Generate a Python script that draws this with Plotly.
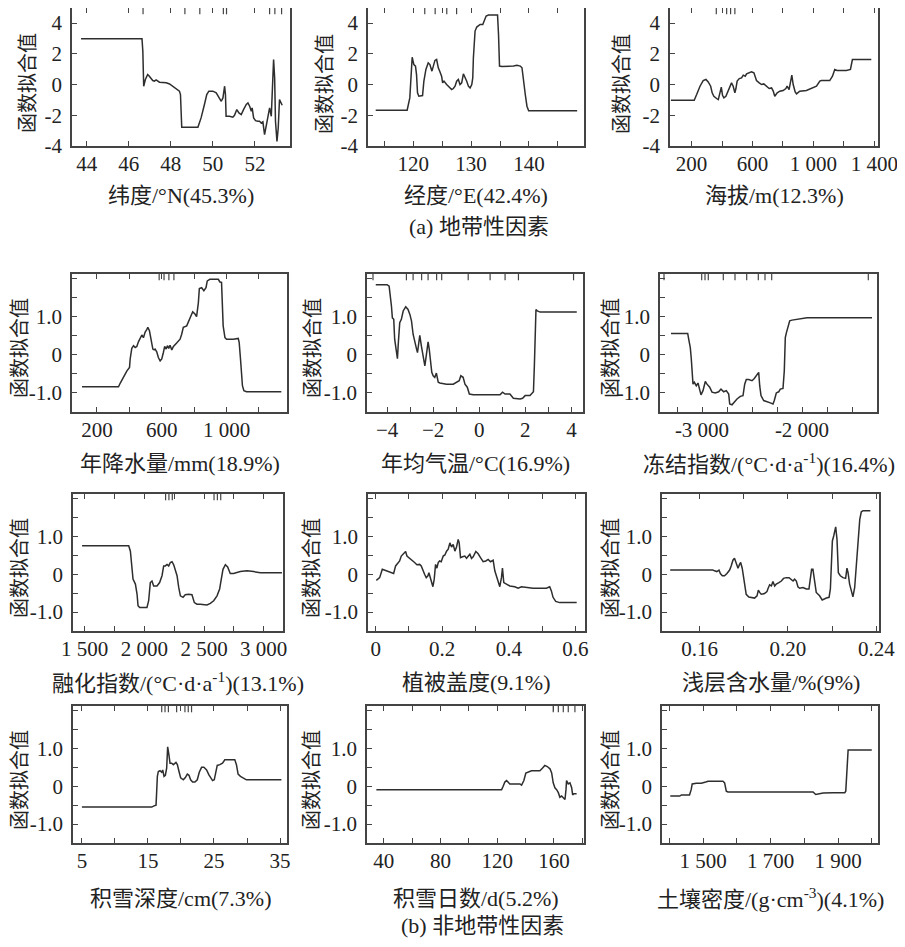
import plotly.graph_objects as go

# ---------------- data ----------------
lat_x = [43.73, 46.63, 46.67, 46.70, 46.71, 46.79, 46.90, 46.98, 47.06, 47.14, 47.22, 47.30, 47.46, 47.62,
         47.78, 47.94, 48.10, 48.25, 48.41, 48.46, 48.49, 48.52, 49.29, 49.44, 49.60, 49.71, 49.81, 50.00,
         50.16, 50.32, 50.40, 50.48, 50.56, 50.60, 50.63, 50.79, 50.95, 51.03, 51.14, 51.24, 51.35, 51.46,
         51.59, 51.67, 51.75, 51.83, 51.87, 51.94, 52.03, 52.14, 52.22, 52.30, 52.38, 52.46, 52.54, 52.62,
         52.70, 52.78, 52.83, 52.86, 52.89, 52.94, 52.98, 53.05, 53.11, 53.17, 53.25, 53.30]
lat_y = [2.98, 2.98, 2.17, 1.09, -0.11, 0.33, 0.65, 0.54, 0.39, 0.26, 0.22, 0.30, 0.15, 0.15,
         0.11, 0.04, -0.11, -0.26, -0.43, -0.65, -1.74, -2.78, -2.78, -2.17, -1.30, -0.65, -0.43, -0.43,
         -0.54, -0.98, -1.09, -0.87, -0.11, -0.65, -2.07, -2.07, -2.13, -2.00, -1.63, -1.85, -1.96, -1.63,
         -1.30, -1.20, -1.41, -1.74, -1.52, -2.17, -2.35, -2.39, -2.39, -2.50, -2.43, -3.26, -2.61, -2.17,
         -1.52, -2.07, -0.65, 0.65, 1.63, 0.43, -2.39, -3.70, -2.83, -0.98, -1.30, -1.35]
lat_rug = [46.68, 48.67, 49.38, 50.50, 50.65, 52.70, 52.95, 53.27]

lon_x = [113.53, 118.96, 119.42, 119.71, 119.83, 120.12, 120.40, 120.58, 120.75, 120.98, 121.45, 121.62,
         121.85, 122.20, 122.60, 122.89, 123.24, 123.47, 123.76, 124.05, 124.34, 124.62, 124.91, 125.09,
         125.32, 125.78, 126.36, 126.65, 126.94, 127.23, 127.51, 127.80, 128.09, 128.38, 128.67, 128.96,
         129.25, 129.54, 129.83, 130.12, 130.29, 130.40, 130.69, 130.98, 131.56, 132.02, 132.25, 132.60,
         133.01, 133.87, 134.57, 134.74, 134.91, 135.32, 136.18, 137.34, 137.92, 138.50, 138.79, 139.08,
         139.36, 139.65, 139.94, 140.81, 148.32]
lon_y = [-1.67, -1.67, -0.87, 1.09, 1.78, 1.30, 1.20, 0.65, -0.54, -0.76, -0.76, -0.72,
         0.22, 0.98, 1.41, 1.30, 0.87, 1.20, 1.57, 1.63, 1.09, 0.83, 0.54, 0.11,
         0.22, 0.00, -0.22, -0.33, -0.26, -0.11, 0.22, 0.33, 0.00, 0.11, 0.70, 0.48,
         0.22, -0.11, -0.22, 0.00, 0.43, 1.74, 3.48, 3.74, 3.91, 3.91, 4.13, 4.46,
         4.52, 4.52, 4.52, 3.26, 1.20, 1.17, 1.17, 1.20, 1.26, 1.20, 1.09, 0.00,
         -0.65, -1.41, -1.70, -1.70, -1.70]
lon_rug = [122.0, 123.8, 125.8, 127.5]

elev_x = [64, 217, 233, 255, 276, 294, 309, 325, 335, 346, 364, 375, 386, 395, 403, 412, 425, 440, 456,
          462, 473, 484, 491, 499, 513, 528, 539, 552, 561, 578, 593, 609, 626, 644, 659, 674, 692, 709,
          725, 736, 746, 762, 779, 801, 819, 827, 840, 849, 858, 867, 880, 889, 910, 954, 987, 1020,
          1042, 1052, 1107, 1125, 1140, 1155, 1216, 1243, 1256, 1282, 1380]
elev_y = [-1.02, -1.02, -0.65, -0.11, 0.26, 0.33, 0.17, -0.11, -0.54, -0.76, -0.91, -0.98, -0.54, -0.17,
          -0.70, -0.87, -0.76, -0.39, 0.00, 0.11, -0.11, -0.54, -0.26, 0.22, 0.39, 0.43, 0.61, 0.54, 0.70,
          0.76, 0.83, 0.76, 0.26, 0.11, 0.00, 0.04, -0.11, -0.26, -0.22, -0.43, -0.76, -0.54, -0.43, -0.39,
          -0.26, -0.11, -0.33, 0.11, 0.61, 0.00, -0.48, -0.61, -0.43, -0.39, -0.26, -0.11, 0.22, 0.26, 0.26,
          0.54, 0.98, 0.91, 0.91, 0.98, 1.63, 1.63, 1.63]
elev_rug = [362, 430, 456, 484]

prec_x = [108, 333, 344, 364, 385, 401, 405, 415, 426, 436, 446, 456, 467, 477, 487, 497, 508, 514, 524,
          532, 545, 553, 559, 569, 579, 590, 600, 610, 618, 627, 635, 643, 651, 662, 672, 692, 713, 723,
          733, 754, 764, 778, 791, 805, 815, 826, 832, 846, 860, 873, 881, 897, 949, 959, 969, 979, 990,
          1000, 1041, 1072, 1078, 1086, 1098, 1107, 1123, 1338]
prec_y = [-0.84, -0.84, -0.74, -0.57, -0.42, -0.33, -0.11, 0.17, 0.24, 0.19, 0.22, 0.34, 0.45, 0.52,
          0.45, 0.59, 0.67, 0.72, 0.63, 0.45, 0.15, 0.13, 0.15, 0.08, -0.07, -0.16, -0.11, 0.06, 0.22,
          0.15, 0.24, 0.17, 0.25, 0.13, 0.22, 0.31, 0.41, 0.54, 0.72, 0.76, 0.85, 1.00, 1.13, 1.07, 1.00,
          1.37, 1.74, 1.76, 1.68, 1.76, 1.94, 1.98, 1.98, 1.91, 1.90, 0.76, 0.45, 0.41, 0.41, 0.43, 0.32,
          -0.11, -0.81, -0.94, -0.97, -0.97]
prec_rug = [584, 614, 644, 675]

temp_x = [-4.49, -4.00, -3.91, -3.88, -3.81, -3.77, -3.71, -3.67, -3.59, -3.55, -3.51, -3.45, -3.38,
          -3.30, -3.19, -3.09, -3.01, -2.94, -2.87, -2.80, -2.72, -2.68, -2.62, -2.58, -2.51, -2.43,
          -2.36, -2.29, -2.22, -2.17, -2.12, -2.06, -2.00, -1.93, -1.86, -1.78, -1.71, -1.42, -1.13,
          -0.99, -0.87, -0.80, -0.70, -0.62, -0.52, -0.43, -0.26, 0.90, 1.01, 1.12, 1.33, 1.48, 1.77,
          1.88, 1.99, 2.20, 2.35, 2.39, 2.43, 2.46, 2.52, 2.64, 4.23]
temp_y = [1.84, 1.84, 1.80, 1.67, 1.28, 0.97, 0.93, 0.41, -0.03, -0.10, 0.32, 0.84, 0.93,
          1.15, 1.26, 1.19, 1.06, 0.89, 0.54, 0.32, 0.15, 0.06, 0.45, 0.51, 0.23, -0.11,
          -0.29, 0.02, 0.34, 0.15, -0.11, -0.46, -0.55, -0.59, -0.48, -0.72, -0.74, -0.77, -0.77,
          -0.72, -0.68, -0.55, -0.59, -0.77, -0.85, -1.03, -1.05, -1.05, -0.98, -1.03, -1.03, -1.14, -1.16,
          -1.14, -1.07, -1.07, -0.97, -0.29, 0.63, 1.19, 1.15, 1.12, 1.12]
temp_rug = [-4.61, -3.16, -2.87, -2.50, -2.22, -1.85, -1.63, -0.48, 0.47, 1.12, 1.70, 4.09]

frz_x = [-3310, -3143, -3133, -3117, -3107, -3100, -3090, -3077, -3057, -3040, -3023, -3010, -2990,
         -2967, -2950, -2923, -2900, -2867, -2833, -2810, -2783, -2757, -2733, -2723, -2700, -2677,
         -2650, -2617, -2590, -2573, -2557, -2533, -2500, -2477, -2457, -2433, -2423, -2410, -2383,
         -2350, -2317, -2290, -2277, -2257, -2233, -2217, -2190, -2177, -2167, -2157, -2143, -2123,
         -2100, -2050, -1950, -1683, -1300]
frz_y = [0.56, 0.56, 0.41, 0.19, -0.11, -0.55, -0.77, -0.72, -0.81, -0.74, -0.90, -1.05, -0.94,
         -0.70, -0.77, -0.85, -0.98, -1.00, -0.97, -0.90, -0.97, -0.94, -1.03, -1.29, -1.31, -1.23,
         -1.16, -1.09, -1.07, -0.77, -0.65, -0.65, -0.68, -0.62, -0.55, -0.46, -0.81, -1.07, -1.20,
         -1.24, -1.26, -1.29, -1.20, -1.00, -0.97, -0.90, -0.88, -0.42, 0.45, 0.57, 0.71, 0.89,
         0.91, 0.93, 0.97, 0.97, 0.97]
frz_rug = [-3380, -3003, -2970, -2937, -2787, -2670, -2553, -2437, -2370, -2303, -1337]

thaw_x = [1478, 1869, 1883, 1897, 1905, 1925, 1939, 1947, 1961, 2022, 2036, 2050, 2064, 2078, 2106,
          2128, 2148, 2162, 2176, 2190, 2204, 2218, 2232, 2246, 2260, 2274, 2288, 2302, 2324, 2343,
          2371, 2399, 2419, 2441, 2469, 2525, 2553, 2581, 2609, 2631, 2642, 2659, 2679, 2698, 2720,
          2748, 2804, 2860, 2916, 2972, 3153]
thaw_y = [0.75, 0.75, 0.61, 0.18, -0.13, -0.26, -0.53, -0.83, -0.88, -0.88, -0.70, -0.22, -0.18, -0.31,
          -0.31, -0.22, -0.04, 0.22, 0.22, 0.26, 0.22, 0.31, 0.33, 0.25, 0.07, -0.04, -0.35, -0.57, -0.61,
          -0.54, -0.53, -0.54, -0.75, -0.79, -0.79, -0.81, -0.77, -0.70, -0.57, -0.39, -0.18, 0.13, 0.25,
          0.19, 0.02, 0.02, 0.07, 0.09, 0.07, 0.04, 0.04]
thaw_rug = [2178, 2206, 2234, 2584, 2612, 2640]

veg_x = [0.002, 0.012, 0.020, 0.027, 0.037, 0.047, 0.054, 0.060, 0.067, 0.072, 0.077, 0.084, 0.090,
         0.094, 0.100, 0.107, 0.117, 0.124, 0.132, 0.137, 0.142, 0.147, 0.152, 0.157, 0.160, 0.164,
         0.167, 0.172, 0.176, 0.180, 0.184, 0.188, 0.192, 0.197, 0.203, 0.208, 0.213, 0.218, 0.223,
         0.228, 0.233, 0.238, 0.243, 0.248, 0.251, 0.255, 0.261, 0.268, 0.273, 0.278, 0.283, 0.288,
         0.293, 0.301, 0.308, 0.315, 0.323, 0.331, 0.338, 0.345, 0.353, 0.358, 0.363, 0.368, 0.373,
         0.378, 0.381, 0.385, 0.393, 0.403, 0.418, 0.428, 0.438, 0.453, 0.473, 0.513, 0.523, 0.528,
         0.533, 0.541, 0.553, 0.604]
veg_y = [-0.16, -0.09, 0.13, 0.11, 0.07, 0.04, 0.02, 0.22, 0.28, 0.35, 0.48, 0.54, 0.60,
         0.48, 0.44, 0.37, 0.31, 0.25, 0.26, 0.22, 0.09, 0.00, -0.09, -0.04, 0.04, -0.09,
         -0.22, -0.33, -0.13, 0.26, 0.16, 0.31, 0.35, 0.33, 0.48, 0.51, 0.61, 0.66, 0.83,
         0.72, 0.79, 0.61, 0.72, 0.92, 0.83, 0.44, 0.46, 0.48, 0.42, 0.48, 0.53, 0.42,
         0.46, 0.60, 0.54, 0.44, 0.33, 0.35, 0.39, 0.33, 0.37, 0.09, -0.04, -0.18, -0.33,
         -0.09, 0.16, -0.22, -0.26, -0.31, -0.33, -0.37, -0.33, -0.35, -0.37, -0.37, -0.33, -0.44,
         -0.61, -0.72, -0.75, -0.75]

soil_x = [0.1467, 0.1660, 0.1668, 0.1678, 0.1688, 0.1694, 0.1703, 0.1713, 0.1724, 0.1736, 0.1743, 0.1751,
          0.1758, 0.1766, 0.1774, 0.1781, 0.1786, 0.1793, 0.1799, 0.1805, 0.1811, 0.1823, 0.1834, 0.1849,
          0.1860, 0.1866, 0.1872, 0.1879, 0.1894, 0.1905, 0.1909, 0.1917, 0.1925, 0.1932, 0.1940, 0.1947,
          0.1959, 0.1970, 0.1980, 0.1992, 0.2005, 0.2015, 0.2023, 0.2030, 0.2038, 0.2045, 0.2053, 0.2068,
          0.2083, 0.2095, 0.2101, 0.2107, 0.2113, 0.2121, 0.2128, 0.2143, 0.2155, 0.2174, 0.2186, 0.2192,
          0.2196, 0.2201, 0.2207, 0.2216, 0.2222, 0.2228, 0.2237, 0.2249, 0.2261, 0.2267, 0.2272, 0.2279,
          0.2287, 0.2294, 0.2302, 0.2309, 0.2317, 0.2325, 0.2332, 0.2340, 0.2373]
soil_y = [0.11, 0.11, 0.09, 0.07, 0.11, 0.02, -0.04, -0.04, 0.02, 0.11, 0.22, 0.37,
          0.42, 0.31, 0.16, 0.26, 0.31, 0.16, -0.09, -0.35, -0.53, -0.60, -0.61, -0.63,
          -0.57, -0.42, -0.48, -0.53, -0.51, -0.46, -0.39, -0.28, -0.31, -0.19, -0.31, -0.26,
          -0.22, -0.18, -0.11, -0.09, -0.09, -0.13, -0.18, -0.13, -0.18, -0.33, -0.37, -0.35,
          -0.39, -0.39, -0.13, 0.13, 0.13, -0.18, -0.48, -0.57, -0.68, -0.63, -0.61, -0.39,
          0.35, 0.88, 1.01, 1.25, 0.92, 0.04, -0.04, -0.09, -0.11, 0.16, 0.04, -0.26,
          -0.44, -0.60, -0.35, 0.13, 0.83, 1.45, 1.65, 1.68, 1.68]

snowd_x = [4.99, 15.57, 15.92, 16.22, 16.32, 16.42, 16.57, 16.82, 17.08, 17.23, 17.43, 17.63, 17.83,
           17.98, 18.14, 18.34, 18.59, 18.84, 19.24, 19.45, 19.70, 19.95, 20.35, 20.66, 20.96, 21.21,
           21.46, 21.76, 22.11, 22.47, 22.77, 23.12, 23.47, 23.88, 24.23, 24.48, 24.79, 25.04, 25.29,
           25.49, 25.89, 26.29, 26.64, 27.40, 28.15, 28.40, 28.65, 29.01, 29.41, 29.91, 30.92, 35.21]
snowd_y = [-0.55, -0.55, -0.52, -0.50, -0.13, 0.26, 0.39, 0.41, 0.37, 0.43, 0.26, 0.29, 0.48,
           1.04, 0.87, 0.61, 0.61, 0.57, 0.63, 0.57, 0.39, 0.22, 0.17, 0.23, 0.32, 0.29,
           0.17, 0.11, 0.11, 0.17, 0.37, 0.50, 0.50, 0.43, 0.30, 0.22, 0.15, 0.17, 0.39,
           0.55, 0.57, 0.61, 0.70, 0.70, 0.70, 0.57, 0.32, 0.26, 0.22, 0.17, 0.17, 0.17]
snowd_rug = [17.08, 17.58, 18.09, 19.34, 20.60, 21.10, 21.60]

snowdays_x = [34.8, 123.1, 124.2, 125.4, 126.6, 127.8, 128.9, 131.3, 136.0, 137.2, 138.8, 140.2, 141.9,
              144.2, 147.8, 150.1, 152.0, 153.6, 155.3, 157.2, 158.4, 159.5, 160.7, 161.9, 163.1, 164.2,
              165.4, 166.6, 167.8, 168.5, 168.9, 170.1, 171.3, 172.5, 173.2, 174.1, 176.0]
snowdays_y = [-0.09, -0.09, 0.00, 0.11, 0.15, 0.11, 0.06, 0.06, 0.06, 0.03, 0.15, 0.35, 0.37,
              0.41, 0.41, 0.41, 0.48, 0.55, 0.52, 0.46, 0.35, 0.09, -0.04, -0.09, -0.17, -0.29,
              -0.26, -0.32, -0.35, -0.09, 0.15, 0.06, 0.09, -0.04, -0.23, -0.20, -0.20]
snowdays_rug = [159.5, 163.1, 166.6, 170.1, 174.8]

dens_x = [1403, 1431, 1436, 1460, 1465, 1468, 1480, 1495, 1508, 1515, 1559, 1564, 1569, 1574, 1589,
          1688, 1787, 1826, 1834, 1846, 1856, 1885, 1920, 1923, 1927, 1930, 1945, 2000]
dens_y = [-0.26, -0.26, -0.23, -0.23, -0.09, 0.06, 0.08, 0.08, 0.11, 0.13, 0.13, 0.09, -0.13, -0.15,
          -0.15, -0.15, -0.15, -0.15, -0.22, -0.20, -0.18, -0.17, -0.17, -0.13, 0.65, 0.96, 0.96, 0.96]

x_titles = ["纬度/°N(45.3%)", "经度/°E(42.4%)", "海拔/m(12.3%)",
            "年降水量/mm(18.9%)", "年均气温/°C(16.9%)", "冻结指数/(°C·d·a<sup>-1</sup>)(16.4%)",
            "融化指数/(°C·d·a<sup>-1</sup>)(13.1%)", "植被盖度(9.1%)", "浅层含水量/%(9%)",
            "积雪深度/cm(7.3%)", "积雪日数/d(5.2%)", "土壤密度/(g·cm<sup>-3</sup>)(4.1%)"]
y_title = "函数拟合值"
captions = ["(a) 地带性因素", "(b) 非地带性因素"]

# ---------------- layout helpers ----------------
OFF = 8                      # default body margin of the html page
W, H = 905 - 2 * OFF, 947 - 2 * OFF
FONT = "Liberation Serif, Times New Roman, Noto Sans CJK SC, serif"
LINE = "#2e2e2e"
AX = "#444444"


def px(xp):
    return min(1.0, max(0.0, (xp - OFF) / W))


def py(yp):
    return min(1.0, max(0.0, 1 - (yp - OFF) / H))


panels = [
    dict(x=lat_x, y=lat_y, rug=lat_rug, box=(72, 290, 8, 146), xr=[43.3, 53.67], yr=[-4, 4.98],
         tv=[44, 46, 48, 50, 52], tt=None, mdt=None, mir="ticks", ytx=28, yty=83, xty=195),
    dict(x=lon_x, y=lon_y, rug=lon_rug, box=(368, 584, 8, 146), xr=[112.2, 149.5], yr=[-4, 4.98],
         tv=[120, 130, 140], tt=None, mdt=5, mir="ticks", ytx=325, yty=84, xty=195),
    dict(x=elev_x, y=elev_y, rug=elev_rug, box=(670, 878, 8, 146), xr=[58, 1424], yr=[-4, 4.98],
         tv=[200, 600, 1000, 1400], tt=["200", "600", "1 000", "1 400"], mdt=200, mir="ticks",
         ytx=622, yty=84, xty=195),
    dict(x=prec_x, y=prec_y, rug=prec_rug, box=(72, 287, 274, 412), xr=[46, 1373], yr=[-1.5, 2.12],
         tv=[200, 600, 1000], tt=["200", "600", "1 000"], mdt=200, mir="ticks", ytx=20, yty=348, xty=463),
    dict(x=temp_x, y=temp_y, rug=temp_rug, box=(367, 583, 274, 412), xr=[-4.87, 4.50], yr=[-1.5, 2.12],
         tv=[-4, -2, 0, 2, 4], tt=None, mdt=1, mir=True, ytx=313, yty=348, xty=463),
    dict(x=frz_x, y=frz_y, rug=frz_rug, box=(660, 877, 274, 412), xr=[-3420, -1250], yr=[-1.5, 2.12],
         tv=[-3000, -2000], tt=["-3 000", "-2 000"], mdt=250, mir=True, ytx=611, yty=348, xty=463),
    dict(x=thaw_x, y=thaw_y, rug=thaw_rug, box=(73, 283, 494, 631), xr=[1402, 3162], yr=[-1.5, 2.12],
         tv=[1500, 2000, 2500, 3000], tt=["1 500", "2 000", "2 500", "3 000"], mdt=250, mir="ticks",
         ytx=20, yty=568, xty=682),
    dict(x=veg_x, y=veg_y, rug=[], box=(368, 585, 494, 631), xr=[-0.023, 0.629], yr=[-1.5, 2.12],
         tv=[0, 0.2, 0.4, 0.6], tt=["0", "0.2", "0.4", "0.6"], mdt=0.1, mir="ticks", ytx=312, yty=568, xty=682),
    dict(x=soil_x, y=soil_y, rug=[], box=(662, 879, 494, 631), xr=[0.143, 0.2412], yr=[-1.5, 2.12],
         tv=[0.16, 0.20, 0.24], tt=["0.16", "0.20", "0.24"], mdt=0.02, mir="ticks", ytx=611, yty=568, xty=682),
    dict(x=snowd_x, y=snowd_y, rug=snowd_rug, box=(73, 287, 706, 843), xr=[3.64, 36.06], yr=[-1.5, 2.12],
         tv=[5, 15, 25, 35], tt=None, mdt=5, mir="ticks", ytx=20, yty=780, xty=898),
    dict(x=snowdays_x, y=snowdays_y, rug=snowdays_rug, box=(367, 584, 706, 843), xr=[28.2, 181.2], yr=[-1.5, 2.12],
         tv=[40, 80, 120, 160], tt=None, mdt=20, mir="ticks", ytx=312, yty=780, xty=898),
    dict(x=dens_x, y=dens_y, rug=[], box=(662, 878, 706, 843), xr=[1378.5, 2018.5], yr=[-1.5, 2.12],
         tv=[1500, 1700, 1900], tt=["1 500", "1 700", "1 900"], mdt=100, mir="ticks", ytx=611, yty=780, xty=898),
]

fig = go.Figure()
annotations = []
layout = {}
TICKFONT = dict(family=FONT, size=21, color="#222")
TITLEFONT = dict(family=FONT, size=22, color="#222")
YTFONT = dict(family=FONT, size=20, color="#222")

for i, p in enumerate(panels):
    n = i + 1
    xa = "xaxis" if n == 1 else f"xaxis{n}"
    ya = "yaxis" if n == 1 else f"yaxis{n}"
    xref = "x" if n == 1 else f"x{n}"
    yref = "y" if n == 1 else f"y{n}"
    l, r, t, b = p["box"]
    row1 = i < 3

    fig.add_trace(go.Scatter(x=p["x"], y=p["y"], mode="lines", xaxis=xref, yaxis=yref,
                             line=dict(color=LINE, width=1.5), hoverinfo="skip"))
    if p["rug"]:
        fig.add_trace(go.Scatter(x=p["rug"], y=[p["yr"][1]] * len(p["rug"]), mode="markers",
                                 xaxis=xref, yaxis=yref, cliponaxis=True,
                                 marker=dict(symbol="line-ns", size=9, color=AX,
                                             line=dict(color=AX, width=1.2)),
                                 hoverinfo="skip"))

    xdict = dict(domain=[px(l), px(r)], range=p["xr"], anchor=yref, automargin=False,
                 showline=True, linecolor=AX, linewidth=1.5, mirror=p["mir"],
                 ticks="inside", ticklen=5, tickwidth=1.2, tickcolor=AX,
                 showgrid=False, zeroline=False, tickmode="array", tickvals=p["tv"],
                 ticklabelstandoff=-2, ticklabeloverflow="allow", tickfont=TICKFONT)
    if p["tt"] is not None:
        xdict["ticktext"] = p["tt"]
    if p["mdt"] is not None:
        xdict["minor"] = dict(ticks="inside", ticklen=5, tickwidth=1.2, tickcolor=AX,
                              dtick=p["mdt"], tick0=p["tv"][0], showgrid=False)
    if row1:
        ydict = dict(tickmode="array", tickvals=[-4, -2, 0, 2, 4], ticktext=["-4", "-2", "0", "2", "4"])
    else:
        ydict = dict(tickmode="array", tickvals=[-1, 0, 1], ticktext=["-1.0", "0", "1.0"],
                     minor=dict(ticks="inside", ticklen=5, tickwidth=1.2, tickcolor=AX,
                                dtick=0.5, tick0=0, showgrid=False))
    ydict.update(domain=[py(b), py(t)], range=p["yr"], anchor=xref, automargin=False,
                 showline=True, linecolor=AX, linewidth=1.5, mirror=True,
                 ticks="inside", ticklen=5, tickwidth=1.2, tickcolor=AX,
                 showgrid=False, zeroline=False, ticklabelstandoff=4, ticklabeloverflow="allow",
                 tickfont=TICKFONT)
    layout[xa] = xdict
    layout[ya] = ydict

    annotations.append(dict(text=y_title, x=px(p["ytx"]), y=py(p["yty"]), xref="paper", yref="paper",
                            textangle=-90, showarrow=False, xanchor="center", yanchor="middle",
                            font=YTFONT))
    annotations.append(dict(text=x_titles[i], x=px((l + r) / 2), y=py(p["xty"]), xref="paper", yref="paper",
                            showarrow=False, xanchor="center", yanchor="middle", font=TITLEFONT))

annotations.append(dict(text=captions[0], x=px(479), y=py(227), xref="paper", yref="paper",
                        showarrow=False, xanchor="center", yanchor="middle", font=TITLEFONT))
annotations.append(dict(text=captions[1], x=px(482), y=py(925), xref="paper", yref="paper",
                        showarrow=False, xanchor="center", yanchor="middle", font=TITLEFONT))

fig.update_layout(width=W, height=H, margin=dict(l=0, r=0, t=0, b=0, pad=0),
                  paper_bgcolor="white", plot_bgcolor="white", showlegend=False,
                  annotations=annotations, **layout)

fig.write_html("out.html")
